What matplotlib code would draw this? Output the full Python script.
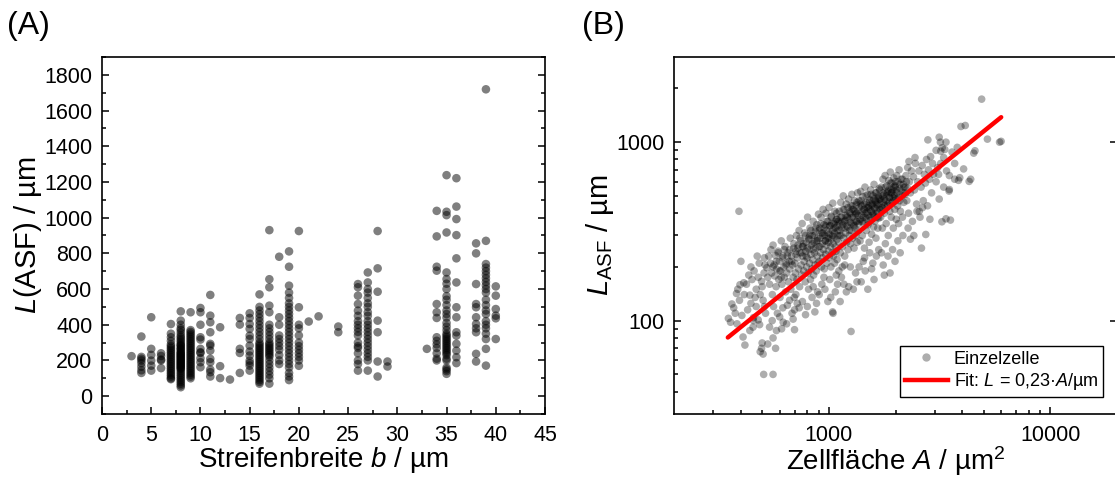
import matplotlib
matplotlib.use('Agg')
import matplotlib.pyplot as plt
from matplotlib.ticker import MultipleLocator, FixedLocator, FuncFormatter, NullFormatter
from matplotlib.lines import Line2D

plt.rcParams['font.family'] = ['Liberation Sans', 'DejaVu Sans']
plt.rcParams['mathtext.fontset'] = 'custom'
plt.rcParams['mathtext.rm'] = 'Liberation Sans'
plt.rcParams['mathtext.it'] = 'Liberation Sans:italic'
plt.rcParams['mathtext.bf'] = 'Liberation Sans:bold'

# ---------------- Panel A data: stripe width b (µm) and L(ASF) (µm) ----------------
stripe_widths = [3, 4, 5, 6, 7, 8, 9, 10, 11, 12, 13, 14, 15, 16, 17, 18, 19, 20,
                 21, 22, 24, 26, 27, 28, 29, 33, 34, 35, 36, 38, 39, 40]
L_by_width = [
    [224],
    [334, 220, 210, 200, 185, 165, 145, 130],
    [442, 265, 231, 199, 171, 143],
    [240, 225, 205, 200, 157],
    [404, 350, 330, 310, 290, 280, 270, 260, 250, 240, 230, 220, 210, 200, 190,
     180, 170, 160, 150, 140, 130, 120, 110, 100, 95],
    [475, 423, 400, 380, 370, 355, 340, 330, 320, 310, 300, 290, 285, 280, 270,
     265, 260, 250, 245, 240, 235, 230, 225, 220, 215, 210, 205, 200, 195, 190,
     185, 180, 175, 170, 165, 160, 155, 150, 140, 130, 120, 110, 100, 90, 80, 70, 60, 50],
    [470, 370, 360, 350, 340, 330, 320, 310, 300, 290, 280, 270, 260, 250, 240,
     230, 220, 210, 200, 190, 180, 170, 160, 150, 140, 130, 120, 110, 100],
    [494, 470, 400, 330, 317, 265, 246, 242, 212, 190, 162],
    [567, 451, 414, 358, 293, 283, 255, 209, 190, 149, 134, 110],
    [386, 168, 101],
    [93],
    [438, 401, 265, 242, 130],
    [464, 438, 404, 377, 339, 320, 283, 250, 227, 199, 185, 171, 143],
    [570, 500, 480, 460, 440, 420, 400, 380, 360, 340, 320, 300, 290, 280, 270,
     260, 250, 240, 230, 220, 210, 200, 190, 180, 170, 160, 150, 140, 130, 120,
     110, 100, 90, 80, 70],
    [930, 655, 610, 507, 470, 400, 380, 360, 340, 320, 300, 290, 280, 270, 260,
     250, 240, 230, 220, 200, 180, 160, 140, 120, 100, 70],
    [781, 442, 400, 340, 320, 300, 280, 260, 230, 200, 180],
    [811, 725, 619, 580, 550, 520, 500, 480, 460, 440, 420, 400, 380, 360, 340,
     320, 300, 280, 260, 240, 220, 200, 180, 160, 130, 110, 90],
    [925, 498, 400, 380, 340, 300, 280, 260, 240, 220, 200, 170],
    [418],
    [447],
    [390, 358],
    [628, 610, 563, 516, 479, 450, 420, 400, 380, 360, 340, 300, 280, 270, 240,
     200, 180, 143],
    [693, 637, 600, 580, 550, 520, 500, 470, 450, 420, 400, 380, 360, 340, 320,
     300, 280, 260, 240, 220, 200, 143],
    [925, 716, 585, 423, 358, 194, 110],
    [194, 166],
    [265],
    [1038, 895, 725, 703, 516, 470, 438, 330, 310, 290, 270, 240, 210, 200],
    [1238, 1033, 1014, 917, 693, 656, 630, 600, 560, 540, 510, 480, 460, 440,
     410, 390, 370, 350, 340, 330, 320, 310, 300, 290, 280, 270, 260, 250, 240,
     230, 210, 200, 160, 150, 140, 125],
    [1221, 1062, 992, 902, 772, 637, 498, 442, 358, 339, 293, 255, 218, 185],
    [856, 800, 628, 516, 498, 442, 404, 380, 358, 237, 194],
    [1719, 870, 740, 720, 700, 680, 660, 640, 620, 600, 580, 540, 510, 480, 460,
     420, 400, 380, 350, 320, 265, 171],
    [615, 563, 488, 451, 436, 320],
]

# ---------------- Panel B data: cell area A (µm²) and L_ASF (µm) ----------------
cell_area = [
    352, 365, 383, 393, 401, 397, 413, 372, 385, 405, 410, 418, 395, 378, 415, 360, 388,
    425, 440, 440, 457, 457, 445, 470, 480, 487, 490, 497, 505, 500, 497, 510, 515, 480,
    460, 470, 430, 450, 490, 505, 518, 512, 475, 445, 500, 512, 465, 435, 455, 485, 508, 560,
    525, 530, 535, 540, 545, 548, 552, 556, 560, 563, 566, 570, 574, 578, 582, 586, 590,
    594, 598, 602, 606, 610, 614, 618, 622, 626, 630, 634, 638, 642, 646, 650, 654, 658,
    662, 666, 670, 674, 678, 682, 686, 690, 694, 698,
    540, 560, 580, 600, 620, 645, 665, 690, 530, 575, 555, 612, 700, 700,
    702, 706, 710, 714, 718, 722, 726, 730, 734, 738, 742, 746, 750, 754, 758, 762, 766,
    770, 774, 778, 782, 786, 790, 794, 798, 802, 806, 810, 814, 818, 822, 826, 830, 834,
    838, 842, 846, 850, 854, 858, 862, 866, 870, 874, 878, 882, 886, 890, 894, 898,
    710, 735, 760, 785, 810, 840, 865, 890, 720, 800, 850, 880,
    902, 906, 910, 914, 918, 922, 926, 930, 934, 938, 942, 946, 950, 954, 958, 962, 966,
    970, 974, 978, 982, 986, 990, 994, 998, 1002, 1006, 1010, 1014, 1018, 1022, 1026,
    1030, 1034, 1038, 1042, 1046, 1050, 1054, 1058, 1062, 1066, 1070, 1074, 1078, 1082,
    1086, 1090, 1094, 1098,
    905, 930, 960, 990, 1020, 1045, 1070, 1095, 950, 1010, 1080, 1040,
    1102, 1108, 1114, 1120, 1126, 1132, 1138, 1144, 1150, 1156, 1162, 1168, 1174, 1180,
    1186, 1192, 1198, 1204, 1210, 1216, 1222, 1228, 1234, 1240, 1246, 1252, 1258, 1264,
    1270, 1276, 1282, 1288, 1294, 1300, 1306, 1312, 1318, 1324, 1330, 1336, 1342, 1348,
    1110, 1140, 1170, 1200, 1230, 1260, 1290, 1320, 1150, 1250, 1340, 1125, 1180,
    1352, 1360, 1368, 1376, 1384, 1392, 1400, 1408, 1416, 1424, 1432, 1440, 1448, 1456,
    1464, 1472, 1480, 1488, 1496, 1504, 1512, 1520, 1528, 1536, 1544, 1552, 1560, 1568,
    1576, 1584, 1592, 1600, 1608, 1616, 1624, 1632, 1640, 1648, 1656, 1664, 1672, 1680,
    1688, 1696,
    1370, 1400, 1430, 1460, 1500, 1530, 1560, 1600, 1640, 1680, 1450, 1580,
    1705, 1715, 1725, 1735, 1745, 1755, 1765, 1775, 1785, 1795, 1805, 1815, 1825, 1835,
    1845, 1855, 1865, 1875, 1885, 1895, 1905, 1915, 1925, 1935, 1945, 1955, 1965, 1975,
    1985, 1995, 2005, 2015, 2025, 2035, 2045, 2055, 2065, 2075, 2085, 2095, 2105, 2120,
    2135, 2150, 2165, 2180, 2195,
    1730, 1760, 1800, 1850, 1890, 1940, 1990, 2050, 2100, 2160, 1780,
    2210, 2230, 2250, 2270, 2290, 2310, 2335, 2360, 2385, 2410, 2435, 2460, 2490, 2520,
    2550, 2580, 2610, 2640, 2670, 2700, 2730, 2760, 2790, 2820, 2850, 2880, 2910, 2940,
    2970, 2280, 2335, 2420, 2500, 2620, 2740, 2560, 2650, 2800, 2860, 2300, 2450,
    3050, 3150, 3190, 3250, 3300, 3340, 3380, 3100, 3200, 3130, 3400, 3500, 3500, 3540,
    3240, 3380, 3700, 3800, 3900, 4060, 4370, 4570, 3850, 4300, 3490, 3600, 3300, 3150,
    3050, 3700, 3200, 3950, 4130,
    4897, 5200, 5995, 4510, 5900,
    650, 665, 680, 695, 710, 725, 740, 755, 770, 785, 800, 815, 830, 845, 860, 875, 890,
    905, 920, 935, 950, 965, 980, 995, 1010, 1025, 1040, 1055, 1070, 1085, 1100, 1115,
    1130, 1145, 1160, 1175, 1190, 1205, 1220, 1235, 1250, 1265, 1280, 1295, 1310, 1325,
    1340, 1355, 1370, 1385, 1400, 1415, 1430, 1445, 1460, 1475, 1490, 1505, 1520, 1535,
    1550, 1565, 1580, 1595, 1610, 1625, 1640, 1655, 1670, 1685, 1700, 1720, 1740, 1760,
    1780, 1800, 1820, 1840, 1860, 1880, 1900, 1920, 1940, 1960, 1980, 2000, 2030, 2060,
    2090, 2120, 2150, 2180, 2210, 2240, 2270,
    560, 580, 600, 620, 640, 590, 610, 630,
    760, 790, 820, 850, 880, 910, 940, 970, 1000, 1030, 1060, 1090, 1120, 1150, 1180,
    1210, 1240, 1270, 1300, 1330, 1360, 1390, 1420, 1450, 1480, 1510, 1540, 1570, 1600,
    1630, 1660, 1690, 1720, 1750, 1790, 1830, 1870, 1910, 1950, 1990,
]
cell_L = [
    103, 124, 142, 410, 215, 159, 163, 118, 96, 107, 81, 73, 130, 110, 140, 98, 150,
    160, 88, 139, 100, 104, 125, 150, 101, 95, 67, 70, 65, 75, 166, 185, 205, 175,
    190, 120, 115, 170, 140, 130, 110, 225, 230, 200, 155, 120, 135, 180, 92, 210, 50, 50,
    198, 175, 230, 160, 210, 250, 185, 140, 265, 120, 205, 178, 232, 155, 195, 110, 245,
    170, 215, 135, 190, 280, 160, 225, 98, 200, 175, 260, 145, 210, 185, 122, 240, 165,
    215, 195, 290, 150, 230, 110, 205, 175, 255, 135,
    92, 80, 88, 105, 118, 96, 130, 102, 74, 70, 100, 90, 115, 89,
    210, 185, 245, 300, 170, 225, 265, 195, 320, 155, 240, 280, 205, 180, 350, 230, 260,
    190, 215, 310, 165, 245, 275, 200, 225, 380, 185, 290, 250, 210, 330, 170, 235, 265,
    195, 300, 220, 360, 180, 275, 240, 205, 315, 255, 190, 345, 230, 280, 210, 395,
    140, 118, 128, 108, 150, 135, 112, 145, 125, 120, 155, 125,
    260, 215, 330, 290, 240, 380, 200, 310, 270, 225, 420, 250, 345, 195, 300, 280, 235,
    400, 265, 320, 210, 290, 360, 245, 275, 430, 225, 305, 340, 260, 200, 385,
    285, 240, 320, 455, 270, 230, 350, 295, 210, 410, 260, 330, 245, 370,
    285, 220, 340, 300,
    140, 160, 150, 128, 135, 110, 145, 160, 175, 170, 180, 112,
    360, 275, 410, 320, 240, 460, 300, 380, 260, 345, 500, 290, 420, 230,
    365, 310, 450, 275, 390, 335, 250, 480, 300, 405, 355, 270, 440, 320,
    510, 380, 290, 420, 345, 255, 470, 330, 395, 300, 445, 360, 275, 520,
    190, 175, 160, 145, 155, 87, 150, 185, 200, 200, 165, 128, 205,
    410, 320, 470, 360, 280, 530, 390, 440, 300, 495, 350, 420, 255, 560,
    380, 460, 320, 405, 510, 345, 430, 275, 475, 365, 540, 410, 305, 450,
    390, 500, 335, 580, 425, 360, 470, 290, 520, 400, 445, 330, 490, 375,
    550, 420,
    200, 165, 215, 190, 150, 240, 195, 170, 230, 250, 225, 210,
    480, 380, 560, 430, 330, 620, 460, 510, 400, 650, 470, 350, 570, 440,
    530, 300, 610, 490, 410, 680, 520, 380, 590, 460, 540, 330, 630, 500,
    420, 560, 480, 370, 650, 520, 440, 600, 350, 700, 470, 550, 410, 620,
    500, 380, 580, 460, 520,
    240, 205, 270, 230, 185, 250, 215, 280, 240, 300, 180,
    560, 650, 470, 720, 400, 600, 520, 690, 360, 640, 540, 760, 450, 600,
    690, 380, 560, 740, 470, 660, 590, 800, 440, 700, 620, 830, 520, 760,
    660, 330, 286, 300, 410, 255, 304, 410, 430, 1030, 370, 780, 820,
    900, 1066, 1000, 930, 820, 910, 1000, 720, 760, 660, 690, 650, 543, 366,
    358, 372, 620, 935, 632, 708, 620, 895, 611, 603, 532, 880, 560, 480,
    600, 760, 890, 1224, 1240,
    1742, 1040, 1011, 868, 1000,
    230, 250, 215, 270, 235, 255, 290, 240, 270, 300, 255, 285, 320, 270, 300, 330, 290,
    320, 350, 300, 330, 280, 360, 310, 340, 380, 300, 330, 360, 400, 320, 350,
    380, 330, 420, 360, 390, 340, 430, 370, 400, 350, 440, 380, 410, 360,
    460, 390, 430, 370, 470, 410, 380, 450, 400, 500, 430, 390, 460, 420,
    510, 440, 400, 480, 430, 520, 460, 410, 500, 450, 540, 470, 430, 520,
    480, 560, 500, 450, 540, 490, 590, 520, 470, 560, 510, 600, 540, 490,
    580, 530, 620, 560, 510, 600, 550,
    200, 215, 190, 230, 205, 240, 175, 250,
    260, 230, 300, 250, 280, 260, 310, 340, 290, 350, 310, 370, 300, 360, 330,
    380, 320, 420, 340, 400, 350, 450, 360, 420, 370, 440, 380, 470, 390,
    450, 380, 480, 420, 500, 440, 520, 460, 540, 490, 570,
]

# fit line L = 0.23 * A (endpoints of drawn fit)
fit_area = [350, 6000]
fit_L = [80.5, 1380]

# ---------------- Figure ----------------
fig = plt.figure(figsize=(11.15, 4.79), dpi=100)
axA = fig.add_axes([102 / 1115, 65 / 479, 443 / 1115, 357 / 479])
axB = fig.add_axes([674 / 1115, 65 / 479, 443 / 1115, 357 / 479])

tick_fs = 15.5
label_fs = 20

# Panel A
for w, vals in zip(stripe_widths, L_by_width):
    axA.scatter([w] * len(vals), vals, s=38, color='black', alpha=0.5,
                edgecolors='none', zorder=3)
axA.set_xlim(0, 45)
axA.set_ylim(-100, 1900)
axA.xaxis.set_major_locator(MultipleLocator(5))
axA.xaxis.set_minor_locator(MultipleLocator(2.5))
axA.yaxis.set_major_locator(FixedLocator([0, 200, 400, 600, 800, 1000, 1200, 1400, 1600, 1800]))
axA.yaxis.set_minor_locator(MultipleLocator(100))
axA.tick_params(axis='both', which='both', direction='in', top=False, right=True,
                labelsize=tick_fs, width=1.1)
axA.tick_params(which='major', length=5)
axA.tick_params(which='minor', length=3)
axA.tick_params(axis='y', which='both', pad=7)
axA.tick_params(axis='x', which='both', pad=8)
axA.set_xlabel('Streifenbreite $b$ / µm', fontsize=label_fs)
axA.set_ylabel('$L$(ASF) / µm', fontsize=label_fs + 1)
axA.xaxis.set_label_coords(0.5, -0.088)
axA.yaxis.set_label_coords(-0.13, 0.5)
for sp in axA.spines.values():
    sp.set_linewidth(1.2)

# Panel B
axB.scatter(cell_area, cell_L, s=30, color='black', alpha=0.32, edgecolors='none',
            zorder=3)
axB.plot(fit_area, fit_L, color='#ff0000', lw=3.2, zorder=4, solid_capstyle='round')
axB.set_xscale('log')
axB.set_yscale('log')
axB.set_xlim(200, 20000)
axB.set_ylim(30, 3000)
fmt = FuncFormatter(lambda v, p: '%d' % round(v))
axB.xaxis.set_major_locator(FixedLocator([1000, 10000]))
axB.xaxis.set_minor_locator(FixedLocator([300, 400, 500, 600, 700, 800, 900,
                                          2000, 3000, 4000, 5000, 6000, 7000, 8000, 9000]))
axB.xaxis.set_major_formatter(fmt)
axB.xaxis.set_minor_formatter(NullFormatter())
axB.yaxis.set_major_locator(FixedLocator([100, 1000]))
axB.yaxis.set_minor_locator(FixedLocator([40, 50, 60, 70, 80, 90, 200, 300, 400,
                                          500, 600, 700, 800, 900, 2000]))
axB.yaxis.set_major_formatter(fmt)
axB.yaxis.set_minor_formatter(NullFormatter())
axB.tick_params(axis='both', which='both', direction='in', top=False, right=False,
                labelsize=tick_fs, width=1.1)
axB.tick_params(which='major', length=5)
axB.tick_params(which='minor', length=3)
axB.tick_params(axis='y', which='major', right=True)
axB.tick_params(axis='y', which='both', pad=7)
axB.tick_params(axis='x', which='both', pad=8)
axB.set_xlabel('Zellfläche $A$ / µm$^2$', fontsize=label_fs)
axB.set_ylabel('$L_\\mathrm{ASF}$ / µm', fontsize=label_fs + 1)
axB.xaxis.set_label_coords(0.5, -0.085)
axB.yaxis.set_label_coords(-0.13, 0.5)
for sp in axB.spines.values():
    sp.set_linewidth(1.2)

handles = [Line2D([], [], marker='o', ls='none', color='black', alpha=0.32,
                  markeredgecolor='none', markersize=6),
           Line2D([], [], color='#ff0000', lw=3.2)]
leg = axB.legend(handles, ['Einzelzelle', 'Fit: $L$ = 0,23·$A$/µm'],
                 loc='lower right', bbox_to_anchor=(0.968, 0.048),
                 fontsize=13, frameon=True, fancybox=False, framealpha=1,
                 edgecolor='black', handlelength=2.4, handletextpad=0.3,
                 borderpad=0.25, labelspacing=0.2, borderaxespad=0)
leg.get_frame().set_linewidth(1.0)

fig.text(0.006, 0.945, '(A)', fontsize=23, va='center', ha='left')
fig.text(0.522, 0.945, '(B)', fontsize=23, va='center', ha='left')

fig.savefig('out.png', dpi=100)
